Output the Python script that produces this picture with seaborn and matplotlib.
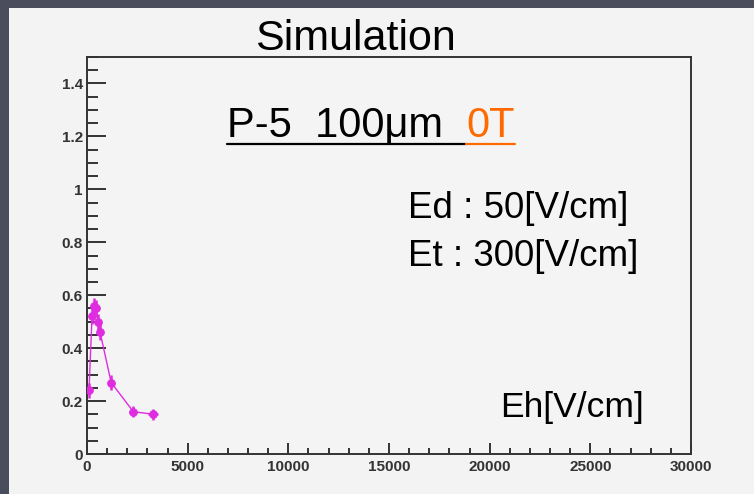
import matplotlib
matplotlib.use("Agg")
import matplotlib.pyplot as plt
import numpy as np
import pandas as pd
import seaborn as sns
from matplotlib.patches import Rectangle
from matplotlib.lines import Line2D
from matplotlib.ticker import MultipleLocator

# Hole field scan: efficiency vs Eh
eh = [100, 250, 350, 450, 550, 650, 1200, 2300, 3300]
eff = [0.24, 0.52, 0.56, 0.55, 0.50, 0.46, 0.27, 0.16, 0.15]
eh_err = [120, 120, 120, 120, 120, 120, 150, 200, 250]
eff_err = [0.03, 0.03, 0.03, 0.03, 0.03, 0.03, 0.03, 0.02, 0.02]

x_ticks = [0, 5000, 10000, 15000, 20000, 25000, 30000]
x_tick_labels = ["0", "5000", "10000", "15000", "20000", "25000", "30000"]
y_ticks = [0, 0.2, 0.4, 0.6, 0.8, 1.0, 1.2, 1.4]
y_tick_labels = ["0", "0.2", "0.4", "0.6", "0.8", "1", "1.2", "1.4"]

title = "Simulation"
label_main = "P-5  100\u03bcm  "
label_field = "0T"
label_ed = "Ed : 50[V/cm]"
label_et = "Et : 300[V/cm]"
label_eh = "Eh[V/cm]"

sns.set_theme(style="ticks")
plt.rcParams['font.family'] = ['Liberation Sans', 'DejaVu Sans']

W, H = 754, 494
fig = plt.figure(figsize=(W / 100, H / 100), dpi=100)
fig.patch.set_facecolor('#4a4d5b')
fig.add_artist(Rectangle((9 / W, 0), 1, 1 - 8 / H, transform=fig.transFigure,
                         facecolor='#f3f3f3', edgecolor='none', zorder=-1))

ax = fig.add_axes([87 / W, 40 / H, 604 / W, 397 / H])
ax.set_facecolor('#f4f4f4')

df = pd.DataFrame({"eh": eh, "eff": eff})
col = '#e02ce0'
sns.lineplot(data=df, x="eh", y="eff", sort=False, color=col, lw=1.0,
             marker='o', markersize=5.5, markeredgecolor=col, ax=ax, zorder=3)
ax.errorbar(eh, eff, xerr=eh_err, yerr=eff_err, fmt='none', ecolor=col,
            elinewidth=1.8, capsize=0, zorder=3)

ax.set_xlim(0, 30000)
ax.set_ylim(0, 1.5)
ax.set_xticks(x_ticks)
ax.set_xticklabels(x_tick_labels)
ax.set_yticks(y_ticks)
ax.set_yticklabels(y_tick_labels)
ax.xaxis.set_minor_locator(MultipleLocator(1000))
ax.yaxis.set_minor_locator(MultipleLocator(0.05))
ax.set_xlabel("")
ax.set_ylabel("")

for s in ax.spines.values():
    s.set_color('#333333')
    s.set_linewidth(1.4)

ax.tick_params(axis='both', which='both', direction='in', colors='#333333',
               top=False, right=False)
ax.tick_params(axis='y', which='major', length=14, width=1.4, pad=3)
ax.tick_params(axis='y', which='minor', length=8, width=1.4)
ax.tick_params(axis='x', which='major', length=8, width=1.4, pad=4)
ax.tick_params(axis='x', which='minor', length=4.5, width=1.4)
for lab in ax.get_xticklabels() + ax.get_yticklabels():
    lab.set_fontsize(11)
    lab.set_fontweight('bold')
    lab.set_color('#333333')


def fx(px):
    return px / W


def fy(py):
    return 1 - py / H


fig.text(fx(355), fy(50), title, ha='center', va='baseline', fontsize=31, color='black')

t_main = fig.text(fx(227), fy(137), label_main, ha='left', va='baseline', fontsize=30, color='black')
fig.canvas.draw()
bb = t_main.get_window_extent()
x_end = bb.x1 / W
t_field = fig.text(x_end, fy(137), label_field, ha='left', va='baseline', fontsize=30, color='#ff6a00')
fig.canvas.draw()
bb2 = t_field.get_window_extent()
fig.add_artist(Line2D([bb.x0 / W, x_end], [fy(144), fy(144)], transform=fig.transFigure,
                      color='black', lw=1.6))
fig.add_artist(Line2D([x_end, bb2.x1 / W], [fy(144), fy(144)], transform=fig.transFigure,
                      color='#ff6a00', lw=1.6))

fig.text(fx(408), fy(218), label_ed, ha='left', va='baseline', fontsize=26.5, color='black')
fig.text(fx(408), fy(266), label_et, ha='left', va='baseline', fontsize=26.5, color='black')
fig.text(fx(500), fy(417), label_eh, ha='left', va='baseline', fontsize=25.5, color='black')

fig.savefig("out.png", dpi=100, facecolor=fig.get_facecolor())
